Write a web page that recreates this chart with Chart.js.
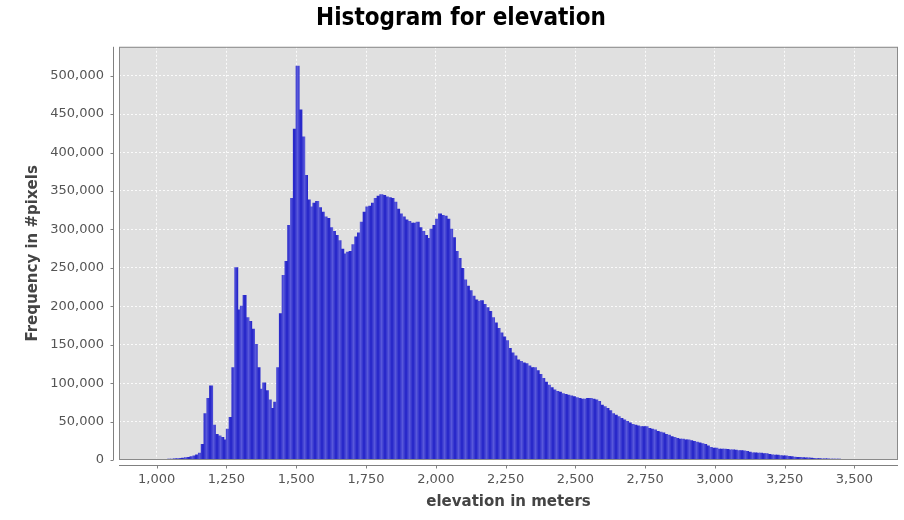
<!DOCTYPE html>
<html>
<head>
<meta charset="utf-8">
<title>Histogram for elevation</title>
<script src="https://cdn.jsdelivr.net/npm/chart.js@4.4.1/dist/chart.umd.min.js"></script>
<style>
    html, body { margin: 0; padding: 0; background: #fff; }
</style>
</head>
<body>
<canvas id="histChart" width="904" height="520"></canvas>
<script>
// Histogram data: 10 m bins starting at 1,000 m, counts
const binStart = 1000;
const binWidth = 10;
const frequency = [
    300, 400, 500, 600, 800, 1000, 1200, 1500, 1800, 2200,                              // 1000
    2700, 3200, 4000, 5000, 6500, 8500, 20000, 60000, 80000, 96000,                     // 1100
    45000, 33000, 31000, 29000, 26000, 40000, 55000, 120000, 250000, 195000,            // 1200
    200000, 214000, 185000, 180000, 170000, 150000, 120000, 92000, 100000, 90000,       // 1300
    78000, 67000, 75000, 120000, 190000, 240000, 258000, 305000, 340000, 430000,        // 1400
    512000, 455000, 420000, 370000, 338000, 329000, 334000, 336000, 328000, 322000,     // 1500
    316000, 314000, 302000, 297000, 292000, 285000, 274000, 268000, 270000, 271000,     // 1600
    280000, 290000, 295000, 309000, 322000, 329000, 330000, 334000, 340000, 343000,     // 1700
    345000, 344000, 342000, 341000, 340000, 335000, 326000, 320000, 316000, 312000,     // 1800
    310000, 308000, 308000, 309000, 302000, 297000, 292000, 288000, 300000, 305000,     // 1900
    313000, 320000, 318000, 317000, 313000, 300000, 289000, 271000, 262000, 249000,     // 2000
    234000, 226000, 220000, 213000, 208000, 206000, 207000, 202000, 198000, 193000,     // 2100
    185000, 178000, 171000, 165000, 160000, 155000, 145000, 139000, 135000, 130000,     // 2200
    128000, 126000, 125000, 122000, 120000, 120000, 116000, 111000, 106000, 101000,     // 2300
    97000, 94000, 91000, 89000, 88000, 86000, 85000, 84000, 83000, 82000,               // 2400
    81000, 80000, 79000, 79000, 80000, 80000, 79000, 78000, 76000, 71000,               // 2500
    69000, 67000, 64000, 60000, 58000, 56000, 54000, 52000, 50000, 48000,               // 2600
    46000, 45000, 44000, 43000, 43000, 43000, 41000, 40000, 39000, 37000,               // 2700
    36000, 35000, 33000, 32000, 30000, 29000, 28000, 27000, 27000, 26000,               // 2800
    26000, 25000, 24000, 23000, 22000, 21000, 20000, 18000, 16000, 15000,               // 2900
    15000, 14000, 14000, 14000, 13500, 13000, 13000, 12500, 12000, 12000,               // 3000
    11500, 11000, 10000, 9000, 9000, 8500, 8500, 8000, 8000, 7000,                      // 3100
    6500, 6200, 6000, 5500, 5000, 5000, 4500, 4000, 3600, 3200,                         // 3200
    3000, 2800, 2600, 2400, 2000, 1800, 1600, 1500, 1300, 1200,                         // 3300
    1100, 1000, 900, 800, 700, 600, 500, 500, 400, 400,                                 // 3400
    300, 300, 200, 200, 200, 100                                                        // 3500
];
const elevation = frequency.map((_, i) => binStart + binWidth * (i + 0.5));

const xTicks = [1000, 1250, 1500, 1750, 2000, 2250, 2500, 2750, 3000, 3250, 3500];
const yTicks = [0, 50000, 100000, 150000, 200000, 250000, 300000, 350000, 400000, 450000, 500000];

const tickFont = { family: "'DejaVu Sans', sans-serif", size: 13 };
const axisTitleFont = { family: "'DejaVu Sans', sans-serif", size: 15, weight: 'bold' };

// vertical blue stripes like the gradient bar painter
function stripePattern(ctx) {
    const c = document.createElement('canvas');
    c.width = 7;
    c.height = 1;
    const g = c.getContext('2d');
    const grad = g.createLinearGradient(0, 0, 7, 0);
    grad.addColorStop(0, '#2222c8');
    grad.addColorStop(0.5, '#5858da');
    grad.addColorStop(1, '#2222c8');
    g.fillStyle = grad;
    g.fillRect(0, 0, 7, 1);
    return ctx.createPattern(c, 'repeat');
}

// plot background, outline and the axis lines set a few pixels away from the plot
const plotFrame = {
    id: 'plotFrame',
    beforeDraw(chart) {
        const { ctx, chartArea: a } = chart;
        ctx.save();
        ctx.fillStyle = '#e0e0e0';
        ctx.fillRect(a.left, a.top, a.right - a.left, a.bottom - a.top);
        ctx.restore();
    },
    afterDraw(chart) {
        const { ctx, chartArea: a, scales } = chart;
        const gap = 6;
        ctx.save();
        ctx.strokeStyle = '#8a8a8a';
        ctx.lineWidth = 1;
        ctx.strokeRect(a.left + 0.5, a.top + 0.5, a.right - a.left - 1, a.bottom - a.top - 1);

        ctx.strokeStyle = '#808080';
        ctx.beginPath();
        const ax = a.left - gap + 0.5;
        ctx.moveTo(ax, a.top);
        ctx.lineTo(ax, a.bottom);
        scales.y.ticks.forEach(t => {
            const y = Math.round(scales.y.getPixelForValue(t.value)) + 0.5;
            ctx.moveTo(ax - 3, y);
            ctx.lineTo(ax, y);
        });
        const ay = a.bottom + gap - 0.5;
        ctx.moveTo(a.left, ay);
        ctx.lineTo(a.right, ay);
        scales.x.ticks.forEach(t => {
            const x = Math.round(scales.x.getPixelForValue(t.value)) + 0.5;
            ctx.moveTo(x, ay);
            ctx.lineTo(x, ay + 3);
        });
        ctx.stroke();
        ctx.restore();
    }
};

const ctx = document.getElementById('histChart').getContext('2d');

new Chart(ctx, {
    type: 'bar',
    data: {
        datasets: [{
            label: 'elevation',
            data: elevation.map((e, i) => ({ x: e, y: frequency[i] })),
            backgroundColor: stripePattern(ctx),
            borderWidth: 0,
            inflateAmount: 0.6,
            barPercentage: 1,
            categoryPercentage: 1
        }]
    },
    options: {
        responsive: false,
        animation: false,
        layout: { padding: { left: 24, right: 6, top: 0, bottom: 0 } },
        plugins: {
            legend: { display: false },
            tooltip: { enabled: false },
            title: {
                display: true,
                text: 'Histogram for elevation',
                color: '#000',
                font: { family: "'DejaVu Sans Condensed', 'Liberation Sans Narrow', 'DejaVu Sans', sans-serif", size: 24, weight: 'bold' },
                padding: { top: 4, bottom: 14 }
            }
        },
        scales: {
            x: {
                type: 'linear',
                offset: false,
                min: 865,
                max: 3656,
                afterBuildTicks: scale => { scale.ticks = xTicks.map(v => ({ value: v })); },
                afterFit: scale => { scale.height = 60; },
                ticks: {
                    color: '#555',
                    font: tickFont,
                    padding: 12,
                    autoSkip: false,
                    maxRotation: 0,
                    callback: v => v.toLocaleString('en-US')
                },
                grid: { offset: false, color: 'rgba(255,255,255,0.85)', lineWidth: 1, drawTicks: false },
                border: { display: false, dash: [2, 2] },
                title: { display: true, text: 'elevation in meters', color: '#444', font: axisTitleFont, padding: { top: 0, bottom: 9 } }
            },
            y: {
                min: 0,
                max: 537500,
                afterBuildTicks: scale => { scale.ticks = yTicks.map(v => ({ value: v })); },
                afterFit: scale => { scale.width = 95; },
                ticks: {
                    color: '#555',
                    font: tickFont,
                    padding: 15,
                    callback: v => v.toLocaleString('en-US')
                },
                grid: { color: 'rgba(255,255,255,0.85)', lineWidth: 1, drawTicks: false },
                border: { display: false, dash: [2, 2] },
                title: { display: true, text: 'Frequency in #pixels', color: '#444', font: axisTitleFont, padding: { top: 0, bottom: 0 } }
            }
        }
    },
    plugins: [plotFrame]
});
</script>
</body>
</html>
